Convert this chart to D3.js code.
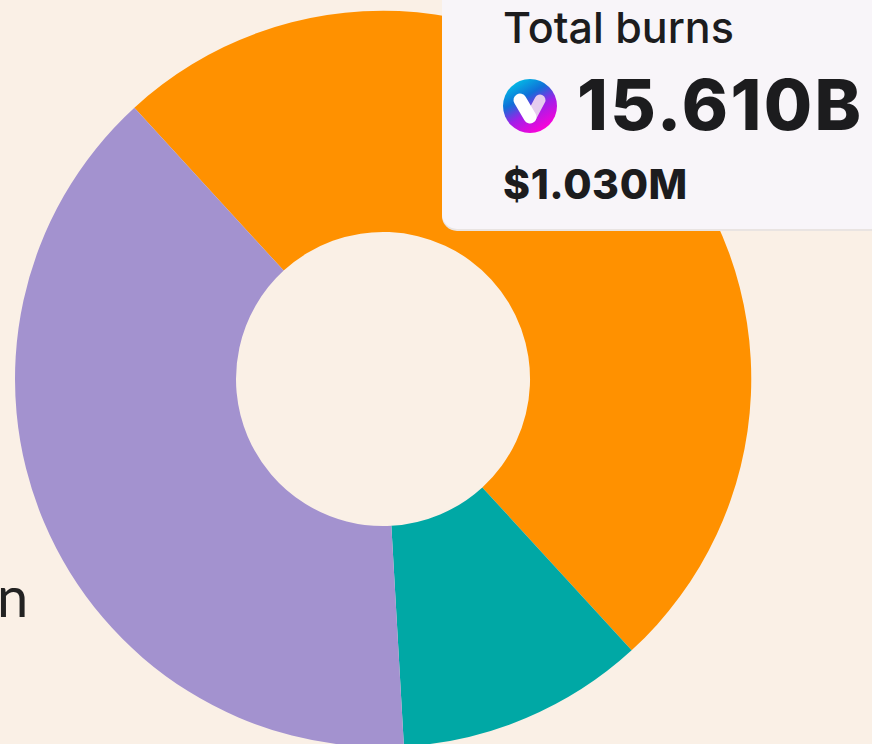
<!DOCTYPE html>
<html><head><meta charset="utf-8">
<script src="https://cdn.jsdelivr.net/npm/d3@7"></script>
<style>html,body{margin:0;padding:0;background:#faf0e6;overflow:hidden}svg{display:block}</style>
</head><body><svg id="c" width="872" height="744"></svg>
<script>
const categories = ["Orange share", "Teal share", "Purple share"];
const shares = [50.0, 10.9, 39.1];
const sliceColors = ["#ff9100", "#00a8a5", "#a392cf"];
const tooltipTitle = "Total burns";
const tooltipAmount = "15.610B";
const tooltipValue = "$1.030M";
const clippedLegendText = "n";

const svg = d3.select("#c");
const cx = 383, cy = 379, outer = 368, inner = 147;
const startDeg = -42.5;
const pie = d3.pie().sort(null).value(d => d.v)
  .startAngle(startDeg * Math.PI / 180)
  .endAngle((startDeg + 360) * Math.PI / 180);
const arc = d3.arc().innerRadius(inner).outerRadius(outer);
const color = d3.scaleOrdinal().domain(categories).range(sliceColors);
svg.append("g").attr("transform", `translate(${cx},${cy})`)
  .selectAll("path").data(pie(categories.map((c, i) => ({c, v: shares[i]}))))
  .join("path").attr("d", arc).attr("fill", d => color(d.data.c));

svg.append("text").attr("x", -3).attr("y", 617).attr("font-family", "Lato")
  .attr("font-size", 56).attr("fill", "#222").text(clippedLegendText);

// tooltip card
svg.append("rect").attr("x", 442).attr("y", -40).attr("width", 470).attr("height", 271)
  .attr("rx", 15).attr("fill", "#e9e4e2");
svg.append("rect").attr("x", 442).attr("y", -40).attr("width", 470).attr("height", 269)
  .attr("rx", 15).attr("fill", "#f8f5f9");
svg.append("text").attr("x", 503).attr("y", 43).attr("font-family", "Inter").attr("font-weight", 500)
  .attr("font-size", 43).attr("fill", "#1c1c1e").text(tooltipTitle);
svg.append("text").attr("x", 577).attr("y", 130).attr("font-family", "Inter").attr("font-weight", 800)
  .attr("font-size", 70).attr("letter-spacing", 2.4).attr("fill", "#1c1c1e").text(tooltipAmount);
svg.append("text").attr("x", 503).attr("y", 199).attr("font-family", "Inter").attr("font-weight", 800)
  .attr("font-size", 41).attr("letter-spacing", 0.6).attr("fill", "#1c1c1e").text(tooltipValue);

// token icon
const defs = svg.append("defs");
const g = defs.append("linearGradient").attr("id", "tok").attr("x1", "0.2").attr("y1", "0").attr("x2", "0.75").attr("y2", "0.95");
[["0%", "#00c8e8"], ["35%", "#1070d8"], ["62%", "#a020e8"], ["100%", "#ff00d8"]]
  .forEach(([o, c]) => g.append("stop").attr("offset", o).attr("stop-color", c));
const ic = svg.append("g").attr("transform", "translate(530,106)");
ic.append("circle").attr("r", 27).attr("fill", "url(#tok)");
ic.append("path").attr("d", "M1,11 L10,-6").attr("stroke", "#e6cdee").attr("stroke-width", 11).attr("stroke-linecap", "round");
ic.append("path").attr("d", "M-10,-6 L0,11").attr("stroke", "#fff").attr("stroke-width", 13).attr("stroke-linecap", "round");
</script></body></html>
